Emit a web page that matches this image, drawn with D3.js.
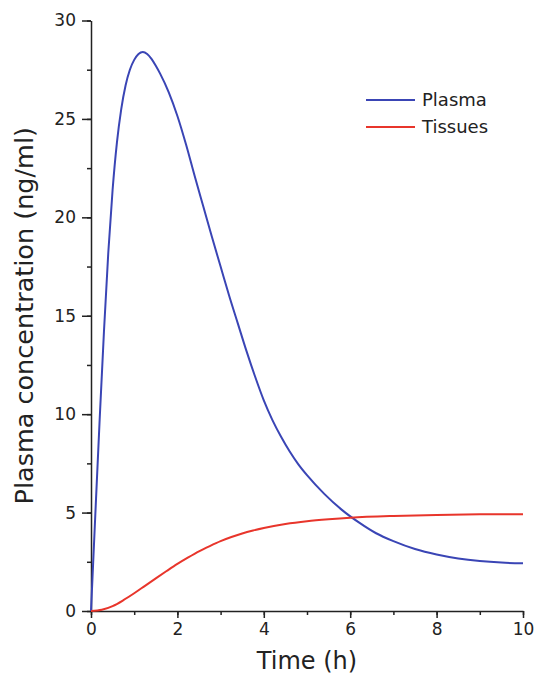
<!DOCTYPE html>
<meta charset="utf-8">
<html lang="en">
<head>
    <script src="https://d3js.org/d3.v7.min.js"></script>
    <title>Plasma concentration</title>
    <style>
        body { margin: 0; background: #fff; }
        svg { display: block; font-family: "DejaVu Sans", sans-serif; }
    </style>
</head>
<body>
    <svg></svg>
</body>
</html>
<script>
    // values
    const plasmaTime = [0, 0.1, 0.2, 0.3, 0.4, 0.5, 0.6, 0.7, 0.8, 0.9, 1.0, 1.1, 1.2, 1.3, 1.4, 1.5, 1.6, 1.8, 2.0, 2.2, 2.4, 2.6, 2.8, 3.0, 3.2, 3.4, 3.6, 3.8, 4.0, 4.2, 4.4, 4.6, 4.8, 5.0, 5.4, 5.8, 6.2, 6.6, 7.0, 7.5, 8.0, 8.5, 9.0, 9.5, 10];
    const plasmaConc = [0, 4.9, 9.7, 14.2, 18.2, 21.4, 23.8, 25.5, 26.7, 27.5, 28.0, 28.3, 28.4, 28.3, 28.05, 27.7, 27.3, 26.35, 25.15, 23.7, 22.1, 20.55, 19.0, 17.5, 16.0, 14.6, 13.2, 11.9, 10.7, 9.7, 8.85, 8.1, 7.45, 6.9, 5.95, 5.15, 4.5, 3.95, 3.55, 3.15, 2.87, 2.67, 2.54, 2.46, 2.42];

    const tissueTime = [0, 0.25, 0.5, 0.75, 1.0, 1.25, 1.5, 1.75, 2.0, 2.25, 2.5, 2.75, 3.0, 3.25, 3.5, 3.75, 4.0, 4.5, 5.0, 5.5, 6.0, 7.0, 8.0, 9.0, 10];
    const tissueConc = [0, 0.06, 0.25, 0.55, 0.9, 1.28, 1.66, 2.03, 2.39, 2.72, 3.03, 3.3, 3.55, 3.76, 3.94, 4.09, 4.22, 4.42, 4.56, 4.66, 4.74, 4.83, 4.88, 4.91, 4.92];

    const seriesNames = ["Plasma", "Tissues"];
    const seriesColors = ["#3a45b5", "#e8352b"];

    const xTicks = [0, 2, 4, 6, 8, 10];
    const yTicks = [0, 5, 10, 15, 20, 25, 30];

    let width = 535, height = 675;
    let margin = { left: 91, right: 12, top: 20.5, bottom: 64 };

    let svg = d3.select("svg").attr("width", width).attr("height", height);

    let x = d3.scaleLinear().domain([0, 10]).range([margin.left, width - margin.right]);
    let y = d3.scaleLinear().domain([0, 30]).range([height - margin.bottom, margin.top]);

    const axisColor = "#222";

    // minor ticks first, then the labelled axis on top
    svg.append("g")
        .attr("transform", `translate(0,${y(0)})`)
        .call(d3.axisBottom(x).tickValues(d3.range(0, 11, 1)).tickSize(4).tickFormat(""))
        .call(g => g.select(".domain").remove());
    svg.append("g")
        .attr("transform", `translate(${x(0)},0)`)
        .call(d3.axisLeft(y).tickValues(d3.range(0, 31, 2.5)).tickSize(4).tickFormat(""))
        .call(g => g.select(".domain").remove());

    let xAxis = svg.append("g")
        .attr("transform", `translate(0,${y(0)})`)
        .call(d3.axisBottom(x).tickValues(xTicks).tickSizeInner(7).tickSizeOuter(0).tickPadding(5));
    let yAxis = svg.append("g")
        .attr("transform", `translate(${x(0)},0)`)
        .call(d3.axisLeft(y).tickValues(yTicks).tickSizeInner(9).tickSizeOuter(0).tickPadding(6));

    svg.selectAll(".tick line, .domain").attr("stroke", axisColor).attr("stroke-width", 1.5);
    svg.selectAll(".tick text").attr("fill", axisColor).style("font-size", "17px").style("font-family", "DejaVu Sans");

    let line = d3.line()
        .x(d => x(d[0]))
        .y(d => y(d[1]))
        .curve(d3.curveMonotoneX);

    let series = [
        d3.zip(plasmaTime, plasmaConc),
        d3.zip(tissueTime, tissueConc)
    ];

    svg.append("g")
        .selectAll("path")
        .data(series)
        .enter()
        .append("path")
        .attr("d", line)
        .attr("fill", "none")
        .attr("stroke", (d, i) => seriesColors[i])
        .attr("stroke-width", 2);

    // legend
    let legend = svg.append("g").attr("transform", "translate(366,100)");
    let entry = legend.selectAll("g")
        .data(seriesNames)
        .enter()
        .append("g")
        .attr("transform", (d, i) => `translate(0,${i * 27})`);
    entry.append("line")
        .attr("x1", 0).attr("x2", 49)
        .attr("stroke", (d, i) => seriesColors[i])
        .attr("stroke-width", 2);
    entry.append("text")
        .attr("x", 56)
        .attr("dy", "0.35em")
        .attr("fill", axisColor)
        .style("font-size", "18px")
        .text(d => d);

    // axis titles
    svg.append("text")
        .attr("x", (x(0) + x(10)) / 2)
        .attr("y", 669)
        .attr("text-anchor", "middle")
        .attr("fill", axisColor)
        .style("font-size", "24px")
        .text("Time (h)");

    svg.append("text")
        .attr("transform", `translate(33,${(y(0) + y(30)) / 2}) rotate(-90)`)
        .attr("text-anchor", "middle")
        .attr("fill", axisColor)
        .style("font-size", "25.5px")
        .text("Plasma concentration (ng/ml)");
</script>
